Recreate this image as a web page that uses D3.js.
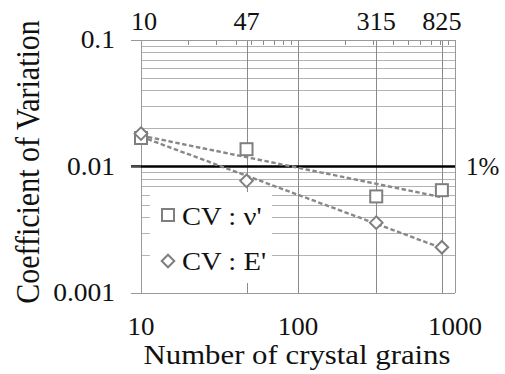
<!DOCTYPE html>
<html>
<head>
<meta charset="utf-8">
<script src="https://cdn.jsdelivr.net/npm/d3@7"></script>
<style>
  html, body { margin: 0; padding: 0; background: #fff; }
  svg { display: block; }
</style>
</head>
<body>
<svg id="chart" width="505" height="374"></svg>
<script>
// Number of crystal grains in each model
const grainCounts = [10, 47, 315, 825];
// Coefficient of variation of Poisson's ratio and Young's modulus
const cvNu = [0.0168, 0.0137, 0.0058, 0.0065];
const cvE = [0.0182, 0.0077, 0.0036, 0.0023];
// Axis labels
const xTickValues = [10, 100, 1000];
const yTickValues = [0.001, 0.01, 0.1];
const yTickLabels = ["0.001", "0.01", "0.1"];
const topTickValues = [10, 47, 315, 825];
const thresholdValue = 0.01;
const thresholdLabel = "1%";
const seriesNames = ["CV : \u03bd'", "CV : E'"];

const serif = "'Liberation Serif', 'Times New Roman', Times, serif";
const svg = d3.select("#chart").style("font-family", serif);
const x = d3.scaleLog().domain([10, 1000]).range([141, 455]);
const y = d3.scaleLog().domain([0.001, 0.1]).range([293, 40]);

const gridMinor = "#b3b3b3";
const gridMajor = "#8a8a8a";
const markColor = "#7f7f7f";
const textColor = "#111";

// text set in a slightly widened face
function label(g, tx, ty, str, size, anchor, sx) {
  return g.append("text")
    .attr("transform", `translate(${tx},${ty}) scale(${sx},1)`)
    .attr("text-anchor", anchor).attr("font-size", size)
    .attr("fill", textColor).text(str);
}

// minor horizontal grid (2..9 of each decade)
const minorY = [];
[0.001, 0.01].forEach(d => { for (let k = 2; k <= 9; k++) minorY.push(d * k); });
svg.append("g").selectAll("line").data(minorY).join("line")
  .attr("x1", x(10)).attr("x2", x(1000))
  .attr("y1", d => Math.round(y(d)) + 0.5).attr("y2", d => Math.round(y(d)) + 0.5)
  .attr("stroke", gridMinor).attr("stroke-width", 1);

// vertical grid at the model sizes and at 100
const vLines = [47, 100, 315, 825];
svg.append("g").selectAll("line").data(vLines).join("line")
  .attr("x1", d => Math.round(x(d)) + 0.5).attr("x2", d => Math.round(x(d)) + 0.5)
  .attr("y1", y(0.1)).attr("y2", y(0.001))
  .attr("stroke", gridMajor).attr("stroke-width", 1);

// minor ticks hanging from the top edge
const minorX = [];
[10, 100].forEach(d => { for (let k = 2; k <= 9; k++) minorX.push(d * k); });
svg.append("g").selectAll("line").data(minorX).join("line")
  .attr("x1", d => Math.round(x(d)) + 0.5).attr("x2", d => Math.round(x(d)) + 0.5)
  .attr("y1", y(0.1)).attr("y2", y(0.1) + 5)
  .attr("stroke", gridMajor).attr("stroke-width", 1);

// frame
const frame = svg.append("g").attr("stroke", "#999").attr("stroke-width", 1);
frame.append("line").attr("x1", 131).attr("x2", x(1000)).attr("y1", y(0.1) + 0.5).attr("y2", y(0.1) + 0.5);
frame.append("line").attr("x1", 131).attr("x2", x(1000)).attr("y1", y(0.001) + 0.5).attr("y2", y(0.001) + 0.5);
frame.append("line").attr("x1", x(10) + 0.5).attr("x2", x(10) + 0.5).attr("y1", y(0.1)).attr("y2", y(0.001));
frame.append("line").attr("x1", x(1000) + 0.5).attr("x2", x(1000) + 0.5).attr("y1", y(0.1)).attr("y2", y(0.001));

// legend background covers the grid
svg.append("rect").attr("x", 150).attr("y", 192).attr("width", 122).attr("height", 91).attr("fill", "#fff");

// 1% reference line
svg.append("line")
  .attr("x1", 131).attr("x2", x(1000))
  .attr("y1", y(thresholdValue)).attr("y2", y(thresholdValue))
  .attr("stroke", "#000").attr("stroke-width", 2.5);
label(svg, 466, y(thresholdValue) + 8, thresholdLabel, 25, "start", 1.0);

// power-law trend lines from a least-squares fit in log-log space
function powerFit(xs, ys) {
  const lx = xs.map(Math.log10), ly = ys.map(Math.log10);
  const mx = d3.mean(lx), my = d3.mean(ly);
  const b = d3.sum(lx, (v, i) => (v - mx) * (ly[i] - my)) / d3.sum(lx, v => (v - mx) ** 2);
  const a = my - b * mx;
  return v => Math.pow(10, a + b * Math.log10(v));
}
const trendX = d3.range(0, 41).map(i => 10 * Math.pow(82.5, i / 40));
const line = d3.line().x(d => x(d[0])).y(d => y(d[1]));
[cvNu, cvE].forEach(series => {
  const f = powerFit(grainCounts, series);
  svg.append("path").datum(trendX.map(v => [v, f(v)]))
    .attr("d", line).attr("fill", "none")
    .attr("stroke", "#888").attr("stroke-width", 2.4)
    .attr("stroke-dasharray", "4.5,2.5");
});

// markers
const sq = 12, dm = 6.3;
function square(g, cx, cy) {
  g.append("rect").attr("x", cx - sq / 2).attr("y", cy - sq / 2)
    .attr("width", sq).attr("height", sq)
    .attr("fill", "#fff").attr("stroke", markColor).attr("stroke-width", 2);
}
function diamond(g, cx, cy) {
  g.append("path").attr("d", `M${cx},${cy - dm}L${cx + dm},${cy}L${cx},${cy + dm}L${cx - dm},${cy}Z`)
    .attr("fill", "#fff").attr("stroke", markColor).attr("stroke-width", 2);
}
const marks = svg.append("g");
grainCounts.forEach((n, i) => square(marks, x(n), y(cvNu[i])));
grainCounts.forEach((n, i) => diamond(marks, x(n), y(cvE[i])));

// legend
square(svg, 168, 215);
label(svg, 182, 225, seriesNames[0], 26, "start", 1.1);
diamond(svg, 168, 261);
label(svg, 182, 270, seriesNames[1], 26, "start", 1.1);

// left axis ticks and labels
svg.append("g").selectAll("line").data(yTickValues).join("line")
  .attr("x1", 131).attr("x2", x(10))
  .attr("y1", d => y(d) + 0.5).attr("y2", d => y(d) + 0.5)
  .attr("stroke", "#999");
const yLab = svg.append("g");
yTickValues.forEach((d, i) => label(yLab, 115, y(d) + 8, yTickLabels[i], 25, "end", 1.1));

// bottom axis labels
const xLab = svg.append("g");
xTickValues.forEach(d => label(xLab, x(d), 335, d3.format("d")(d), 25, "middle", 1.08));

// top axis labels (model sizes)
const topLab = svg.append("g");
topTickValues.forEach(d => label(topLab, x(d) + (d === 10 ? 3 : 0), 30, String(d), 25, "middle", 1.05));

// axis titles
label(svg, 297, 364, "Number of crystal grains", 27.5, "middle", 1.12);
svg.append("text")
  .attr("transform", "translate(39,162) scale(1.1,1) rotate(-90)")
  .attr("text-anchor", "middle").attr("font-size", 30).attr("fill", textColor)
  .text("Coefficient of Variation");
</script>
</body>
</html>
